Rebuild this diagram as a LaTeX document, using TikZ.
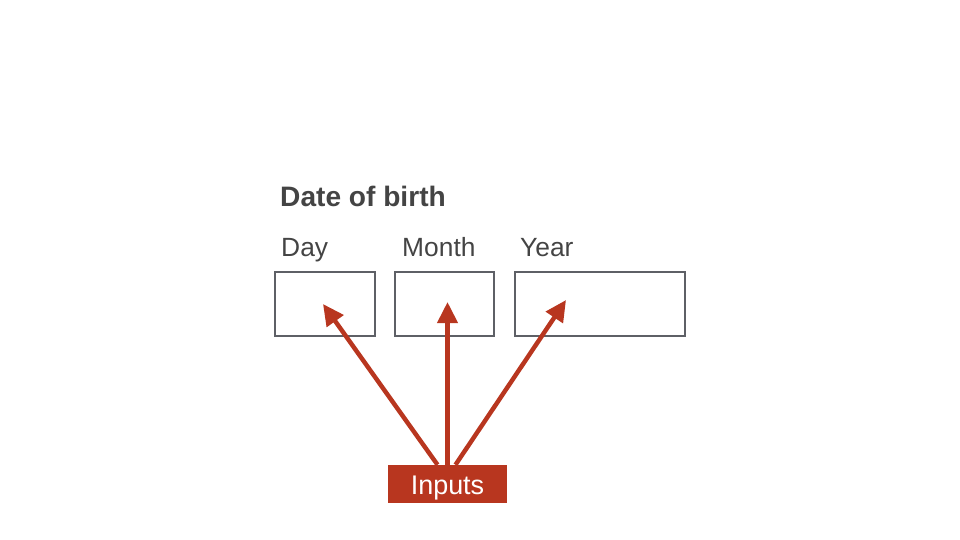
\documentclass[tikz,border=0pt]{standalone}
\usepackage{fontspec}
\setmainfont{Liberation Sans}
\usetikzlibrary{arrows.meta}
\definecolor{inputred}{HTML}{B8361F}
\definecolor{boxgray}{HTML}{5E6066}
\definecolor{textgray}{HTML}{444444}
\begin{document}
\begin{tikzpicture}[x=0.03cm,y=-0.03cm,
  label/.style={anchor=base west,inner sep=0,text=textgray,font=\fontsize{22.5}{26}\selectfont},
  field/.style={draw=boxgray,line width=1.7pt,inner sep=0,minimum height=1.92cm},
  pointer/.style={draw=inputred,line width=3.8pt,-{Triangle[length=18pt,width=17pt]}}]
  \useasboundingbox (0,0) rectangle (960,540);
  % heading and labels
  \node[label,font=\bfseries\fontsize{24}{28}\selectfont] (title) at (280,206) {Date of birth};
  \node[label] (daylabel) at (281,256) {Day};
  \node[label] (monthlabel) at (402,256) {Month};
  \node[label] (yearlabel) at (520,256) {Year};
  % fields
  \node[field,minimum width=3cm] (daybox) at (325,304) {};
  \node[field,minimum width=2.97cm] (monthbox) at (444.5,304) {};
  \node[field,minimum width=5.1cm] (yearbox) at (600,304) {};
  \coordinate (daytip) at (323,304);
  \coordinate (monthtip) at (447.5,302);
  \coordinate (yeartip) at (566,300);
  % inputs
  \node[fill=inputred,text=white,font=\fontsize{23}{26}\selectfont,
    text height=0.8cm,text depth=0.15cm,
    minimum width=3.57cm,minimum height=1.14cm,inner sep=0] (inputs) at (447.5,484) {Inputs};
  \draw[pointer] ([xshift=-0.3cm]inputs.north) -- (daytip);
  \draw[pointer] (inputs.north) -- (monthtip);
  \draw[pointer] ([xshift=0.24cm]inputs.north) -- (yeartip);
\end{tikzpicture}
\end{document}
